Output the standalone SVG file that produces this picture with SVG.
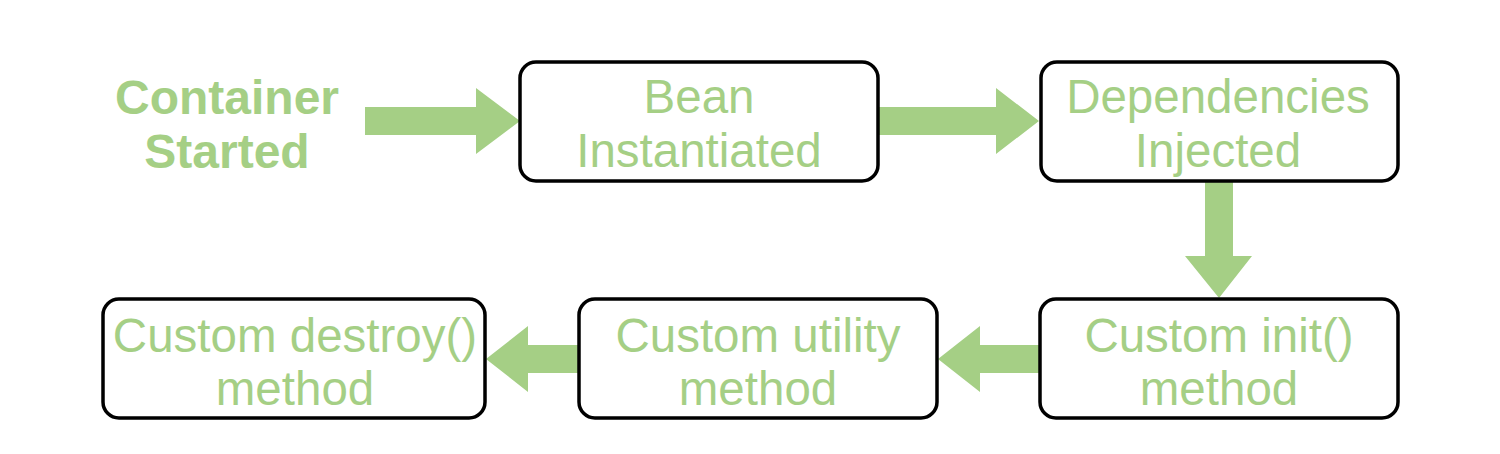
<svg xmlns="http://www.w3.org/2000/svg" width="1500" height="454" viewBox="0 0 1500 454">
<style>
.box{fill:#fff;stroke:#000;stroke-width:3.5}
.t{font-family:"Liberation Sans",Arial,sans-serif;font-size:47.5px;fill:#A5CF85;text-anchor:middle}
.b{font-weight:bold;font-size:48px}
.arr{fill:#A5CF85}
</style>
<rect width="1500" height="454" fill="#fff"/>
<g id="connectors">
<polygon class="arr" points="365,107 476,107 476,88 520,121 476,154 476,135 365,135"/>
<polygon class="arr" points="878,107 996,107 996,88 1039,121 996,154 996,135 878,135"/>
<polygon class="arr" points="1205,181 1233,181 1233,256 1252,256 1219,298 1185,256 1205,256"/>
<polygon class="arr" points="1040,345 980,345 980,326 938,359 980,392 980,373 1040,373"/>
<polygon class="arr" points="579,345 528,345 528,326 486,359 528,392 528,373 579,373"/>
</g>
<g id="container-started">
<text class="t b" x="227" y="114">Container</text>
<text class="t b" x="227" y="168">Started</text>
</g>
<g id="bean-instantiated">
<rect class="box" x="520" y="62" width="358" height="119" rx="16"/>
<text class="t" x="699" y="113">Bean</text>
<text class="t" x="699" y="167">Instantiated</text>
</g>
<g id="dependencies-injected">
<rect class="box" x="1041" y="62" width="357" height="119" rx="16"/>
<text class="t" x="1218" y="113">Dependencies</text>
<text class="t" x="1218" y="167">Injected</text>
</g>
<g id="custom-init">
<rect class="box" x="1040" y="299" width="358" height="119" rx="16"/>
<text class="t" x="1219" y="352">Custom init()</text>
<text class="t" x="1219" y="405">method</text>
</g>
<g id="custom-utility">
<rect class="box" x="579" y="299" width="358" height="119" rx="16"/>
<text class="t" x="758" y="352">Custom utility</text>
<text class="t" x="758" y="405">method</text>
</g>
<g id="custom-destroy">
<rect class="box" x="103" y="299" width="382" height="119" rx="16"/>
<text class="t" x="295" y="352">Custom destroy()</text>
<text class="t" x="295" y="405">method</text>
</g>
</svg>
